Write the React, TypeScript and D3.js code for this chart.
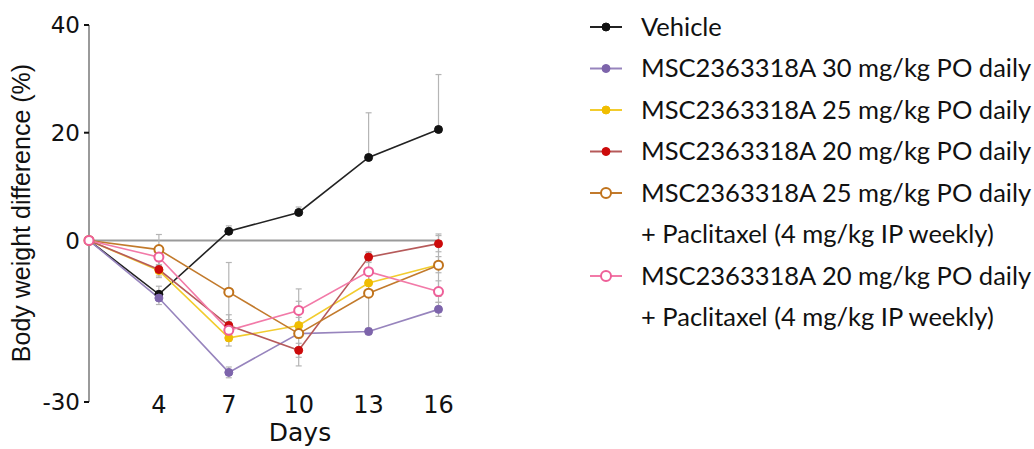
import React from "react";
import * as d3 from "d3";

const days = [1, 4, 7, 10, 13, 16];
const xTickDays = [4, 7, 10, 13, 16];
const yTicks = [40, 20, 0, -30];

const vehicle = [0, -10.0, 1.7, 5.2, 15.4, 20.6];
const vehicleErr = [0, 1.5, 1.0, 1.0, 8.3, 10.2];
const msc30 = [0, -10.7, -24.5, -17.3, -16.9, -12.8];
const msc30Err = [0, 1.2, 1.0, 0.8, 0.6, 1.3];
const msc25 = [0, -5.6, -18.1, -15.8, -7.9, -4.5];
const msc25Err = [0, 1.0, 1.5, 1.5, 1.5, 1.5];
const msc20 = [0, -5.4, -15.8, -20.4, -3.1, -0.6];
const msc20Err = [0, 1.5, 2.0, 1.3, 1.0, 1.5];
const msc25Pac = [0, -1.7, -9.6, -17.3, -9.8, -4.6];
const msc25PacErr = [0, 2.8, 5.5, 6.0, 7.5, 5.8];
const msc20Pac = [0, -3.1, -16.7, -13.0, -5.8, -9.5];
const msc20PacErr = [0, 1.5, 2.0, 4.0, 2.0, 2.0];

const legendLabels = [
  ["Vehicle"],
  ["MSC2363318A 30 mg/kg PO daily"],
  ["MSC2363318A 25 mg/kg PO daily"],
  ["MSC2363318A 20 mg/kg PO daily"],
  ["MSC2363318A 25 mg/kg PO daily", "+ Paclitaxel (4 mg/kg IP weekly)"],
  ["MSC2363318A 20 mg/kg PO daily", "+ Paclitaxel (4 mg/kg IP weekly)"],
];

const series = [
  { values: vehicle, err: vehicleErr, line: "#222", fill: "#111", open: false, up: true },
  { values: msc30, err: msc30Err, line: "#9784bd", fill: "#7d64ab", open: false, up: false },
  { values: msc25, err: msc25Err, line: "#f2cc2e", fill: "#f0bd00", open: false, up: false },
  { values: msc20, err: msc20Err, line: "#b65a5a", fill: "#cc0a0a", open: false, up: false },
  { values: msc25Pac, err: msc25PacErr, line: "#c27a2c", fill: "#c0731c", open: true, up: false },
  { values: msc20Pac, err: msc20PacErr, line: "#f27aa8", fill: "#ee5f98", open: true, up: false },
];

export default function App() {
  const W = 1034, H = 449;
  const x = d3.scaleLinear().domain([1, 16]).range([89, 438.5]);
  const y = d3.scaleLinear().domain([-30, 40]).range([402, 25]);
  const line = d3.line<number>().x((_, i) => x(days[i])).y((v) => y(v));
  const axisFont = "DejaVu Sans, sans-serif";
  const titleFont = "Liberation Sans, Arial, sans-serif";
  const legendFont = "Lato, sans-serif";

  const rowH = 41.5;
  let row = 0;
  const legendRows: { text: string; y: number; marker: number | null }[] = [];
  legendLabels.forEach((lines, si) => {
    lines.forEach((t, li) => {
      legendRows.push({ text: t, y: 27 + row * rowH, marker: li === 0 ? si : null });
      row++;
    });
  });

  return (
    <svg width={W} height={H} style={{ position: "absolute", left: 0, top: 0, background: "#fff" }}>
      <line x1={89} x2={89} y1={y(40)} y2={y(-30)} stroke="#9a9a9a" strokeWidth={2} />
      {yTicks.map((t) => (
        <g key={t}>
          <line x1={84} x2={89} y1={y(t)} y2={y(t)} stroke="#111" strokeWidth={2} />
          <text x={80} y={y(t)} dy="0.36em" textAnchor="end" fontFamily={axisFont} fontSize={23} fill="#111">
            {t}
          </text>
        </g>
      ))}
      <line x1={89} x2={x(16)} y1={y(0)} y2={y(0)} stroke="#9a9a9a" strokeWidth={2} />
      {xTickDays.map((d) => (
        <text key={d} x={x(d)} y={413} textAnchor="middle" fontFamily={axisFont} fontSize={24} fill="#111">
          {d}
        </text>
      ))}
      <text x={300} y={441} textAnchor="middle" fontFamily={axisFont} fontSize={25} fill="#111">
        Days
      </text>
      <text
        transform={`translate(30,213) rotate(-90)`}
        textAnchor="middle"
        fontFamily={titleFont}
        fontSize={25}
        fill="#111"
      >
        Body weight difference (%)
      </text>

      {series.map((s, si) =>
        s.values.map((v, i) =>
          s.err[i] > 0 ? (
            <g key={`e${si}-${i}`} stroke="#b5b5b5" strokeWidth={1.2}>
              <line x1={x(days[i])} x2={x(days[i])} y1={y(v + s.err[i])} y2={s.up ? y(v) : y(v - s.err[i])} />
              <line x1={x(days[i]) - 3} x2={x(days[i]) + 3} y1={y(v + s.err[i])} y2={y(v + s.err[i])} />
              {!s.up && <line x1={x(days[i]) - 3} x2={x(days[i]) + 3} y1={y(v - s.err[i])} y2={y(v - s.err[i])} />}
            </g>
          ) : null
        )
      )}

      {series.map((s, si) => (
        <path key={`l${si}`} d={line(s.values) || ""} fill="none" stroke={s.line} strokeWidth={1.6} />
      ))}
      {series.map((s, si) =>
        s.values.map((v, i) => (
          <circle
            key={`m${si}-${i}`}
            cx={x(days[i])}
            cy={y(v)}
            r={s.open ? 4.5 : 4}
            fill={s.open ? "#fff" : s.fill}
            stroke={s.fill}
            strokeWidth={s.open ? 2 : 1}
          />
        ))
      )}

      {legendRows.map((r, i) => (
        <g key={`lg${i}`}>
          {r.marker !== null && (
            <g>
              <line x1={590} x2={622} y1={r.y} y2={r.y} stroke={series[r.marker].line} strokeWidth={2} />
              <circle
                cx={606}
                cy={r.y}
                r={series[r.marker].open ? 5 : 4}
                fill={series[r.marker].open ? "#fff" : series[r.marker].fill}
                stroke={series[r.marker].fill}
                strokeWidth={series[r.marker].open ? 2 : 1}
              />
            </g>
          )}
          <text x={641} y={r.y} dy="0.35em" fontFamily={legendFont} fontSize={25.5} fill="#111">
            {r.text}
          </text>
        </g>
      ))}
    </svg>
  );
}
